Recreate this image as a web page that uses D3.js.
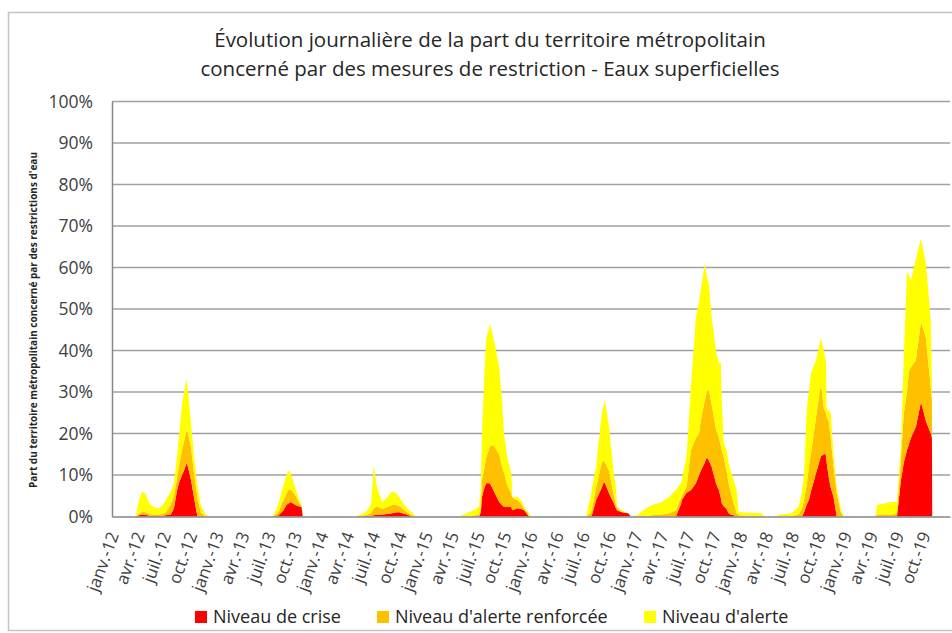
<!DOCTYPE html>
<html>
<head>
<meta charset="utf-8">
<script src="https://cdn.jsdelivr.net/npm/d3@7"></script>
<style>
  body { margin: 0; background: #fff; }
  svg { font-family: "Open Sans", sans-serif; }
</style>
</head>
<body>
<div id="chart-area"></div>
<script>
// Daily restriction share (% of territory per level)
const dates = [
  "2012-01-01","2012-03-24","2012-04-04","2012-04-16","2012-04-26","2012-05-11","2012-05-27","2012-06-12","2012-06-26","2012-07-07","2012-07-24","2012-08-04","2012-08-14","2012-08-21","2012-09-01","2012-09-08","2012-09-18","2012-10-02","2012-10-12","2012-10-22","2012-10-26","2012-11-06","2012-11-23","2012-12-05",
  "2013-07-15","2013-08-04","2013-08-14","2013-08-21","2013-08-31","2013-09-08","2013-09-15","2013-09-22","2013-10-02","2013-10-13","2013-10-23","2013-10-27",
  "2014-05-01","2014-06-04","2014-06-22","2014-07-02","2014-07-13","2014-07-31","2014-08-17","2014-09-03","2014-09-19","2014-09-30","2014-10-09","2014-10-26","2014-11-12","2014-11-26",
  "2015-04-25","2015-06-09","2015-07-04","2015-07-10","2015-07-14","2015-07-21","2015-07-28","2015-08-11","2015-08-25","2015-09-12","2015-09-22","2015-09-29","2015-10-10","2015-10-24","2015-10-28","2015-11-15","2015-11-28","2015-12-08","2015-12-25","2016-01-01",
  "2016-07-11","2016-07-21","2016-07-28","2016-08-01","2016-08-15","2016-08-25","2016-09-04","2016-09-11","2016-09-15","2016-09-29","2016-10-10","2016-10-16","2016-10-23","2016-10-27","2016-11-13","2016-12-05","2016-12-14",
  "2017-01-05","2017-02-05","2017-02-26","2017-04-01","2017-04-26","2017-05-20","2017-06-07","2017-06-10","2017-06-25","2017-06-28","2017-07-12","2017-07-29","2017-08-09","2017-08-15","2017-08-29","2017-09-05","2017-09-12","2017-09-22","2017-10-07","2017-10-17","2017-10-24","2017-10-27","2017-11-03","2017-11-13","2017-11-20","2017-11-27","2017-12-08","2017-12-18","2017-12-25","2018-03-15","2018-03-25",
  "2018-05-05","2018-05-15","2018-06-27","2018-07-22","2018-08-03","2018-08-10","2018-08-20","2018-08-27","2018-09-03","2018-09-21","2018-10-08","2018-10-18","2018-10-25","2018-10-28","2018-11-04","2018-11-11","2018-11-21","2018-12-02","2018-12-16","2018-12-26",
  "2019-04-15","2019-04-18","2019-04-21","2019-06-12","2019-06-30","2019-07-14","2019-07-24","2019-08-04","2019-08-11","2019-08-18","2019-09-04","2019-09-22","2019-10-09","2019-10-26","2019-10-30","2019-10-31"
];

const crise = [
  0,0,0.3,0.5,0.4,0.2,0.1,0.1,0.2,0.3,0.5,2,6,8,10,11,13,9,5,1,0,0,0,0,
  0,0.3,1,1.5,2.8,3.2,3.5,3.2,2.8,2.5,2.3,0,
  0,0.1,0.2,0.3,0.4,0.5,0.6,0.8,1,1,0.8,0.5,0,0,
  0,0,0,1,4.7,6.5,8,8,6,3.5,2.8,2.3,2.3,2.3,1.5,2,1.8,1.5,0,0,
  0,0,0,0.5,4,5.5,7,8.3,8,5.6,4,3.2,2,1.5,1,0.8,0,
  0,0,0,0,0,0,3,4,5.6,5.8,6.4,8,10,11,13,14.3,13.5,12,8,6.4,4.5,3.2,2.5,1.8,0.8,0.5,0.3,0,0,0,0,
  0,0,0,0,0,1,3,4,6,10.5,14.5,15,15,13,9.5,7,4.7,0,0,0,
  0,0,0,0,0,8.8,13,16,17.5,19,21.6,27.6,23,20,19,0
];

const renforcee = [
  0,0,0.3,0.7,0.6,0.4,0.3,0.3,0.4,0.7,2.5,3,3,4,6,7,8,8,6,5,4,1,0,0,
  0,0.7,2,2.5,2.7,3.3,3,2.8,2.2,1,0.2,0,
  0,0.2,0.6,1.7,2.1,1.3,1.6,2,1.8,1.5,1.2,0.5,0.3,0,
  0,0.2,0.5,1,4.1,4.5,6,9,11,11.5,9.2,8.2,5.2,3.3,3,2,1.2,0.5,0.3,0,
  0,0.5,1,1.5,3,4.5,6,5.2,5,5.4,3,1.8,1,0.5,0.2,0,0,
  0,0.2,0.3,0.5,0.8,1.5,1.5,1,1.4,2.2,9.6,11,10,12,15,15.7,17,15,13,12.6,12.5,12.8,11.8,9.2,7.2,5.5,2.9,0.8,0.3,0,0,
  0,0,0.1,0.5,2,3,5,8,9,13.5,17.5,11,10,11,13.5,12,7.3,5.6,1,0,
  0,0.2,0.5,0.5,0.8,5.2,12,14,17.5,17,16.1,19.4,20,11,9,0
];

const alerte = [
  0,0,3.4,4.8,4.5,2.4,1.8,1.6,2.2,3,3,3,5,7,11,12,12,6,4,3,3,1.5,0.5,0,
  0,2,3,3.5,4.5,4.5,4,3,1.5,1,0.3,0,
  0,0.7,2,10.4,4.5,1.7,2.3,3.2,2.8,2,1.5,1,0.7,0,
  0,1.1,1.8,5,11.2,21,28.5,29.5,25.5,21,16,9.5,6.8,4.9,0.2,0.7,1,0.3,0.5,0,
  0,2.7,4,5,5,8.5,12,13.5,15,10.6,7.3,5,4,0.3,0.3,0,0,
  0.3,1.8,2.5,3,3.9,4.9,3.5,3.8,7,8,16,29,32,31.5,33,28,25.5,21,19,18,20,12,3.4,5,5,5,5.6,5.6,0.7,0.8,0,
  0,0.4,0.7,1.8,4,6.5,18,18,19.5,13.7,11,14,12.7,2,2.5,6,3,1.4,1,0,
  0,0.6,2.3,3,2.7,3,14,29,23,21,24.3,20,18,16,3,0
];

const seriesKeys = ["crise", "renforcee", "alerte"];
const seriesNames = ["Niveau de crise", "Niveau d'alerte renforcée", "Niveau d'alerte"];
const seriesColors = ["#ff0000", "#ffc000", "#ffff00"];

const monthNames = ["janv.", "avr.", "juil.", "oct."];
const yTicks = [0, 10, 20, 30, 40, 50, 60, 70, 80, 90, 100];

const titleLines = [
  "Évolution journalière de la part du territoire métropolitain",
  "concerné par des mesures de restriction - Eaux superficielles"
];
const yTitle = "Part du territoire métropolitain concerné par des restrictions d'eau";

const W = 952, H = 633;
const margin = { top: 101.5, right: 2, left: 112, bottom: 116.5 };
const width = W - margin.left - margin.right;
const height = H - margin.top - margin.bottom;

const parse = d3.timeParse("%Y-%m-%d");
const rows = dates.map((d, i) => ({
  date: parse(d), crise: crise[i], renforcee: renforcee[i], alerte: alerte[i]
}));

const svg = d3.select('#chart-area').append('svg')
  .attr('width', W)
  .attr('height', H);

svg.append('rect')
  .attr('width', W).attr('height', H)
  .attr('fill', '#fff');

// outer chart frame
svg.append('rect')
  .attr('x', 8.5).attr('y', 12.5)
  .attr('width', W + 10).attr('height', 618)
  .attr('fill', 'none')
  .attr('stroke', '#c4c4c4')
  .attr('stroke-width', 1.5);

const g = svg.append('g')
  .attr('transform', `translate(${margin.left}, ${margin.top})`);

const x = d3.scaleTime()
  .domain([parse("2012-01-01"), parse("2020-01-01")])
  .range([0, width]);

const y = d3.scaleLinear()
  .domain([0, 100])
  .range([height, 0]);

// gridlines
g.append('g')
  .selectAll('line')
  .data(yTicks.slice(1))
  .enter().append('line')
    .attr('x1', 0).attr('x2', width)
    .attr('y1', d => y(d)).attr('y2', d => y(d))
    .attr('stroke', '#a0a0a0')
    .attr('stroke-width', 1.5);

// stacked areas
const stack = d3.stack().keys(seriesKeys);
const layers = stack(rows);

const area = d3.area()
  .x(d => x(d.data.date))
  .y0(d => y(d[0]))
  .y1(d => y(d[1]));

g.selectAll('path.layer')
  .data(layers)
  .enter().append('path')
    .attr('class', 'layer')
    .attr('fill', (d, i) => seriesColors[i])
    .attr('d', area);

// y axis
const yAxisCall = d3.axisLeft(y)
  .tickValues(yTicks)
  .tickSize(0)
  .tickPadding(19)
  .tickFormat(d => d + '%');
const yAxisGroup = g.append('g').call(yAxisCall);
yAxisGroup.select('.domain').attr('stroke', '#868686').attr('stroke-width', 1.5);
yAxisGroup.selectAll('text')
  .attr('font-size', '17.5px')
  .attr('fill', '#404040')
  .attr('font-family', '"Open Sans", sans-serif');

// x axis
const tickDates = d3.timeMonth.every(3).range(parse("2012-01-01"), parse("2019-12-31"));
const xAxisCall = d3.axisBottom(x)
  .tickValues(tickDates)
  .tickSize(0)
  .tickFormat(d => monthNames[Math.floor(d.getMonth() / 3)] + '-' + d3.timeFormat('%y')(d));
const xAxisGroup = g.append('g')
  .attr('transform', `translate(0, ${height})`)
  .call(xAxisCall);
xAxisGroup.select('.domain').attr('stroke', '#868686').attr('stroke-width', 1.5);
xAxisGroup.selectAll('text')
  .attr('font-size', '17px')
  .attr('fill', '#404040')
  .attr('font-family', '"Open Sans", sans-serif')
  .attr('text-anchor', 'end')
  .attr('y', 0)
  .attr('dy', '0.35em')
  .attr('transform', 'translate(1, 16) rotate(-70)');

// title
svg.append('g')
  .selectAll('text')
  .data(titleLines)
  .enter().append('text')
    .attr('x', 490)
    .attr('y', (d, i) => 47 + i * 29)
    .attr('text-anchor', 'middle')
    .attr('font-size', '20.5px')
    .attr('fill', '#262626')
    .text(d => d);

// y axis label
svg.append('text')
  .attr('transform', `translate(37, 320) rotate(-90)`)
  .attr('text-anchor', 'middle')
  .attr('font-size', '10px')
  .attr('font-weight', 'bold')
  .attr('fill', '#262626')
  .text(yTitle);

// legend
const legendX = [195, 377, 644];
const legend = svg.append('g');
seriesNames.forEach((name, i) => {
  legend.append('rect')
    .attr('x', legendX[i]).attr('y', 611)
    .attr('width', 12).attr('height', 12)
    .attr('fill', seriesColors[i]);
  legend.append('text')
    .attr('x', legendX[i] + 18).attr('y', 623)
    .attr('font-size', '18px')
    .attr('fill', '#262626')
    .text(name);
});
</script>
</body>
</html>
